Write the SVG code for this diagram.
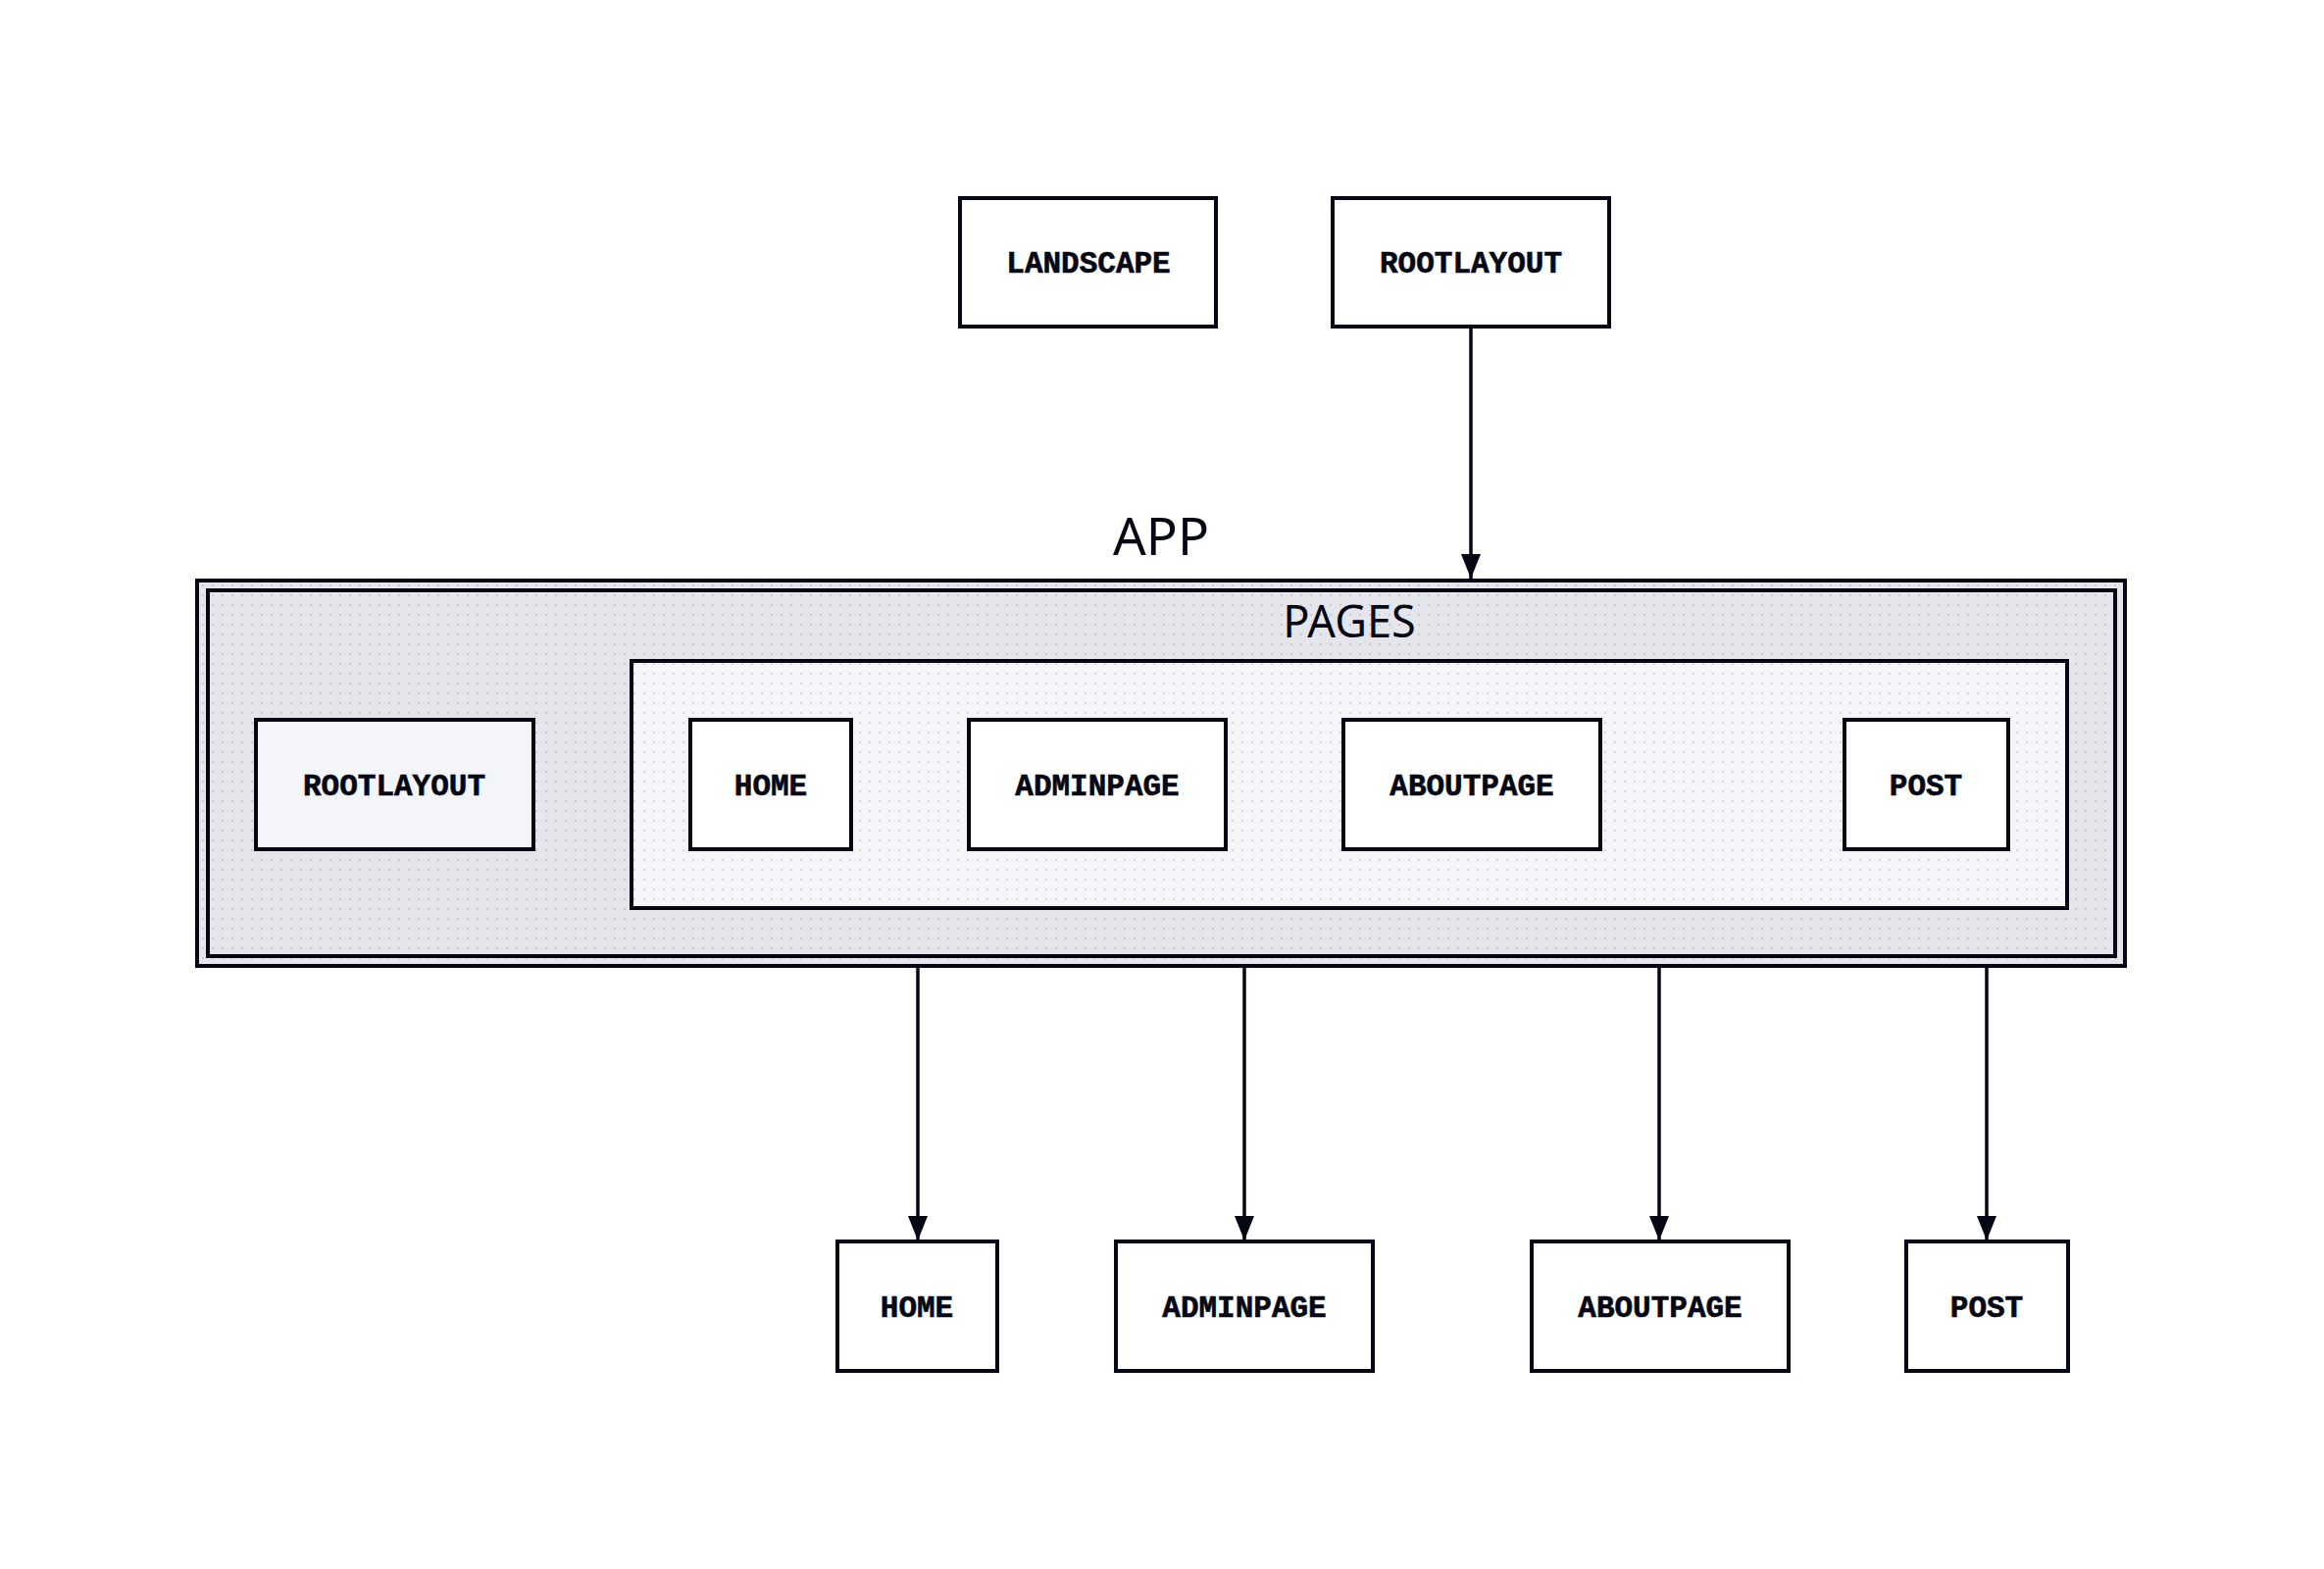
<svg xmlns="http://www.w3.org/2000/svg" width="2370" height="1600" viewBox="0 0 2370 1600">
<defs>
<pattern id="dots" x="0" y="0" width="10" height="10" patternUnits="userSpaceOnUse">
<rect x="6" y="6" width="2" height="2" fill="#c9cad0"/>
</pattern>
<pattern id="dots2" x="0" y="0" width="10" height="10" patternUnits="userSpaceOnUse">
<rect x="6" y="6" width="2" height="2" fill="#d6d7dc"/>
</pattern>
<marker id="arr" viewBox="0 0 25 20" refX="25" refY="10" markerWidth="25" markerHeight="20" markerUnits="userSpaceOnUse" orient="auto">
<path d="M0,0 L25,10 L0,20 Z" fill="#050814"/>
</marker>
<style>
.box{stroke:#050814;stroke-width:4;}
.w{fill:#ffffff;}
.lt{fill:#f4f5f9;}
.lbl{font-family:"Liberation Mono","DejaVu Sans Mono",monospace;font-weight:bold;font-size:31px;fill:#050814;text-anchor:middle;stroke:#050814;stroke-width:0.6;}
.ttl{font-family:"Noto Sans","Open Sans",sans-serif;fill:#050814;text-anchor:middle;}
.conn{stroke:#050814;stroke-width:3.5;fill:none;}
</style>
</defs>
<rect width="2370" height="1600" fill="#ffffff"/>

<g id="app">
<rect x="201" y="592" width="1966" height="393" fill="#e5e6ec" class="box"/>
<rect x="203" y="594" width="1962" height="389" fill="url(#dots)"/>
<rect x="212" y="602" width="1945" height="373" fill="none" class="box"/>
<text class="ttl" x="1184" y="566" font-size="53">APP</text>
</g>

<g id="pages">
<rect x="644" y="674" width="1464" height="252" class="box lt"/>
<rect x="646" y="676" width="1460" height="248" fill="url(#dots2)"/>
<text class="ttl" x="1376" y="650" font-size="45">PAGES</text>
</g>

<g id="landscape">
<rect x="979" y="202" width="261" height="131" class="box w"/>
<text class="lbl" x="1110" y="278">LANDSCAPE</text>
</g>
<g id="rootlayout-top">
<rect x="1359" y="202" width="282" height="131" class="box w"/>
<text class="lbl" x="1500" y="278">ROOTLAYOUT</text>
</g>

<g id="rootlayout-app">
<rect x="261" y="734" width="283" height="132" class="box lt"/>
<text class="lbl" x="402" y="811">ROOTLAYOUT</text>
</g>
<g id="home-pages">
<rect x="704" y="734" width="164" height="132" class="box w"/>
<text class="lbl" x="786" y="811">HOME</text>
</g>
<g id="adminpage-pages">
<rect x="988" y="734" width="262" height="132" class="box w"/>
<text class="lbl" x="1119" y="811">ADMINPAGE</text>
</g>
<g id="aboutpage-pages">
<rect x="1370" y="734" width="262" height="132" class="box w"/>
<text class="lbl" x="1501" y="811">ABOUTPAGE</text>
</g>
<g id="post-pages">
<rect x="1881" y="734" width="167" height="132" class="box w"/>
<text class="lbl" x="1964" y="811">POST</text>
</g>

<g id="home">
<rect x="854" y="1266" width="163" height="132" class="box w"/>
<text class="lbl" x="935" y="1343">HOME</text>
</g>
<g id="adminpage">
<rect x="1138" y="1266" width="262" height="132" class="box w"/>
<text class="lbl" x="1269" y="1343">ADMINPAGE</text>
</g>
<g id="aboutpage">
<rect x="1562" y="1266" width="262" height="132" class="box w"/>
<text class="lbl" x="1693" y="1343">ABOUTPAGE</text>
</g>
<g id="post">
<rect x="1944" y="1266" width="165" height="132" class="box w"/>
<text class="lbl" x="2026" y="1343">POST</text>
</g>

<g id="connectors">
<line class="conn" x1="1500" y1="335" x2="1500" y2="590" marker-end="url(#arr)"/>
<line class="conn" x1="936" y1="987" x2="936" y2="1265" marker-end="url(#arr)"/>
<line class="conn" x1="1269" y1="987" x2="1269" y2="1265" marker-end="url(#arr)"/>
<line class="conn" x1="1692" y1="987" x2="1692" y2="1265" marker-end="url(#arr)"/>
<line class="conn" x1="2026" y1="987" x2="2026" y2="1265" marker-end="url(#arr)"/>
</g>
</svg>
